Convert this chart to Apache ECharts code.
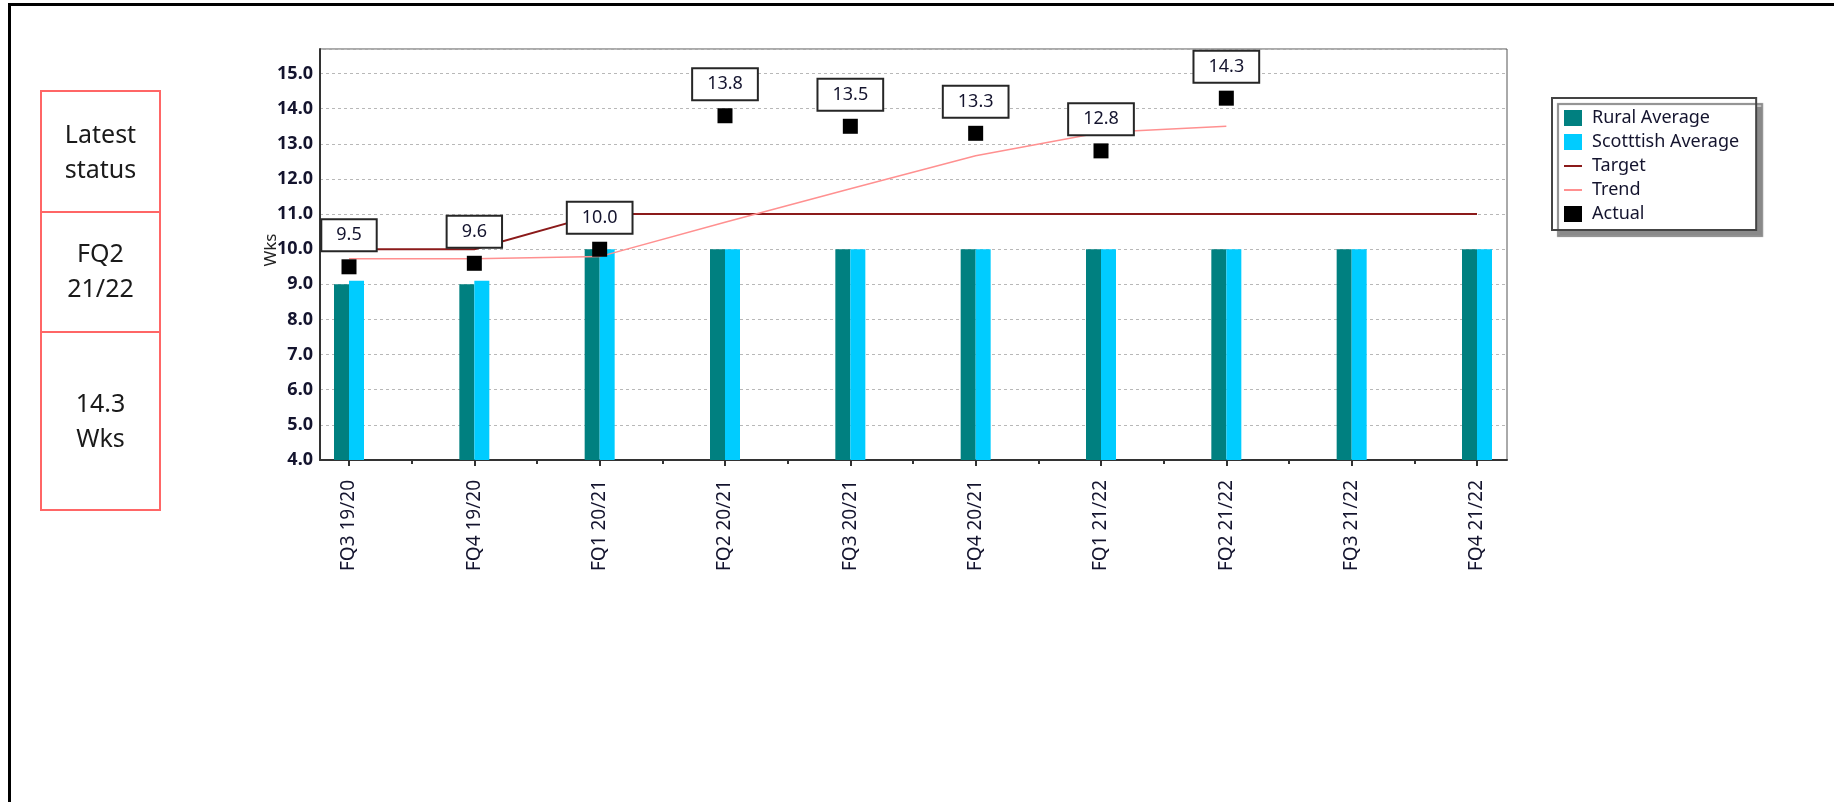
<!DOCTYPE html>
<html>
<head>
<meta charset="utf-8">
<title>Wks</title>
<script src="https://cdn.jsdelivr.net/npm/echarts@6/dist/echarts.min.js"></script>
<style>
  html, body { margin: 0; padding: 0; background: #fff; }
  #chart { width: 1834px; height: 802px; }
</style>
</head>
<body>
<div id="chart"></div>
<script>
// Quarterly measure in weeks
const categories = ['FQ3 19/20', 'FQ4 19/20', 'FQ1 20/21', 'FQ2 20/21', 'FQ3 20/21',
                    'FQ4 20/21', 'FQ1 21/22', 'FQ2 21/22', 'FQ3 21/22', 'FQ4 21/22'];
const ruralAverage    = [9.0, 9.0, 10.0, 10.0, 10.0, 10.0, 10.0, 10.0, 10.0, 10.0];
const scottishAverage = [9.1, 9.1, 10.0, 10.0, 10.0, 10.0, 10.0, 10.0, 10.0, 10.0];
const target          = [10.0, 10.0, 11.0, 11.0, 11.0, 11.0, 11.0, 11.0, 11.0, 11.0];
const trend           = [9.73, 9.73, 9.79, 10.77, 11.72, 12.66, 13.32, 13.5, null, null];
const actual          = [9.5, 9.6, 10.0, 13.8, 13.5, 13.3, 12.8, 14.3, null, null];
const unitName = 'Wks';
const yMin = 4, yMax = 15.7, yStep = 1;

const FONT = "'Noto Sans', 'DejaVu Sans', sans-serif";
const TEXT = '#14142e';

// latest reported quarter for the status panel
let latest = actual.length - 1;
while (latest >= 0 && actual[latest] == null) latest--;
const latestPeriod = categories[latest].split(' ');
const latestValue = actual[latest].toFixed(1);

const panelBox = (y, h) => ({
  type: 'rect', shape: { x: 41, y: y, width: 119, height: h },
  style: { fill: '#fff', stroke: '#ff6666', lineWidth: 2 }
});
const panelText = (cy, txt) => ({
  type: 'text', x: 100.5, y: cy,
  style: { text: txt, font: '25px ' + FONT, fill: '#1a1a1a', align: 'center',
           verticalAlign: 'middle', lineHeight: 35 }
});

// thin horizontal stroke for line-series legend entries (corner dots keep the 18x16 box)
const lineIcon = 'path://M0,0L0.01,0L0.01,0.01Z M0,7L18,7L18,9L0,9Z M17.99,15.99L18,15.99L18,16Z';

const chart = echarts.init(document.getElementById('chart'), null, { renderer: 'canvas' });

const option = {
  animation: false,
  backgroundColor: '#fff',
  textStyle: { fontFamily: FONT },
  grid: [
    // frame grid: border, y axis, bottom axis line
    { left: 320, right: 327, top: 49, bottom: 342, show: true, borderColor: '#555', borderWidth: 1, backgroundColor: '#fff' },
    // data grid: category centres inset from the frame
    { left: 349, right: 357, top: 49, bottom: 342, show: false }
  ],
  xAxis: [
    { gridIndex: 0, type: 'value', min: 0, max: 1, axisLine: { show: true, onZero: false, lineStyle: { color: '#333', width: 2 } },
      axisTick: { show: false }, axisLabel: { show: false }, splitLine: { show: false } },
    { gridIndex: 1, type: 'category', data: categories, boundaryGap: false, position: 'bottom',
      axisLine: { show: false },
      axisTick: { show: true, interval: 0, length: 6, lineStyle: { color: '#333', width: 2 } },
      axisLabel: { interval: 0, rotate: 90, margin: 20, fontSize: 19, color: TEXT, fontFamily: FONT },
      splitLine: { show: false } },
    { gridIndex: 1, type: 'value', min: 0, max: categories.length - 1, interval: 0.5, position: 'bottom',
      axisLine: { show: false }, axisLabel: { show: false }, splitLine: { show: false },
      axisTick: { show: true, length: 4, lineStyle: { color: '#333', width: 2 } } }
  ],
  yAxis: [
    { gridIndex: 0, type: 'value', min: yMin, max: yMax, interval: yStep, startValue: yMin,
      axisLine: { show: true, lineStyle: { color: '#333', width: 2 } },
      axisTick: { show: false },
      axisLabel: { fontSize: 18, fontWeight: 'bold', color: TEXT, margin: 7, showMaxLabel: false,
                   formatter: v => (Math.abs(v - Math.round(v)) < 1e-6 ? v.toFixed(1) : '') },
      splitLine: { show: true, lineStyle: { color: '#b8b8b8', width: 1, type: [3, 3] } } },
    { gridIndex: 1, type: 'value', min: yMin, max: yMax, interval: yStep, startValue: yMin,
      show: false, splitLine: { show: false } }
  ],
  legend: {
    orient: 'vertical', left: 1552, top: 98,
    padding: [11, 17, 7, 12], itemGap: 6, itemWidth: 18, itemHeight: 16,
    backgroundColor: '#fff', borderColor: '#444', borderWidth: 2,
    shadowColor: '#8a8a8a', shadowBlur: 1, shadowOffsetX: 6, shadowOffsetY: 6,
    textStyle: { fontSize: 18, lineHeight: 16, color: TEXT, fontFamily: FONT, padding: [0, 0, 0, 5] },
    data: [
      { name: 'Rural Average', icon: 'rect' },
      { name: 'Scotttish Average', icon: 'rect' },
      { name: 'Target', icon: lineIcon },
      { name: 'Trend', icon: lineIcon },
      { name: 'Actual', icon: 'rect' }
    ]
  },
  series: [
    { name: 'Rural Average', type: 'bar', xAxisIndex: 1, yAxisIndex: 1, data: ruralAverage,
      barWidth: 15, barGap: '0%', clip: false, itemStyle: { color: '#008080' } },
    { name: 'Scotttish Average', type: 'bar', xAxisIndex: 1, yAxisIndex: 1, data: scottishAverage,
      barWidth: 15, barGap: '0%', clip: false, itemStyle: { color: '#00ccff' } },
    { name: 'Target', type: 'line', xAxisIndex: 1, yAxisIndex: 1, data: target, symbol: 'none',
      clip: false, lineStyle: { color: '#8b1a1a', width: 2 }, itemStyle: { color: '#8b1a1a' } },
    { name: 'Trend', type: 'line', xAxisIndex: 1, yAxisIndex: 1, data: trend, symbol: 'none',
      clip: false, lineStyle: { color: '#ff9090', width: 1.5 }, itemStyle: { color: '#ff9090' } },
    { name: 'Actual', type: 'scatter', xAxisIndex: 1, yAxisIndex: 1, data: actual,
      symbol: 'rect', symbolSize: 15, clip: false, itemStyle: { color: '#000', opacity: 1 }, z: 5,
      label: {
        show: true, position: 'top', distance: 9,
        formatter: p => Number(Array.isArray(p.value) ? p.value[1] : p.value).toFixed(1),
        fontSize: 18, lineHeight: 20, color: TEXT, fontFamily: FONT,
        backgroundColor: '#fff', borderColor: '#262626', borderWidth: 2,
        padding: [5, 14, 5, 14]
      } }
  ],
  graphic: [
    // outer frame
    { type: 'line', shape: { x1: 8, y1: 4.5, x2: 1834, y2: 4.5 }, style: { stroke: '#000', lineWidth: 3 } },
    { type: 'line', shape: { x1: 9.5, y1: 3, x2: 9.5, y2: 802 }, style: { stroke: '#000', lineWidth: 3 } },
    // status panel
    panelBox(91, 121), panelBox(212, 120), panelBox(332, 178),
    panelText(153, 'Latest\nstatus'),
    panelText(272, latestPeriod.join('\n')),
    panelText(422, latestValue + '\n' + unitName),
    // y axis title
    { type: 'text', x: 271, y: 250, rotation: Math.PI / 2, z: 10,
      style: { text: unitName, font: '17px ' + FONT, fill: '#222', align: 'center', verticalAlign: 'middle' } }
  ]
};

chart.setOption(option);
</script>
</body>
</html>
